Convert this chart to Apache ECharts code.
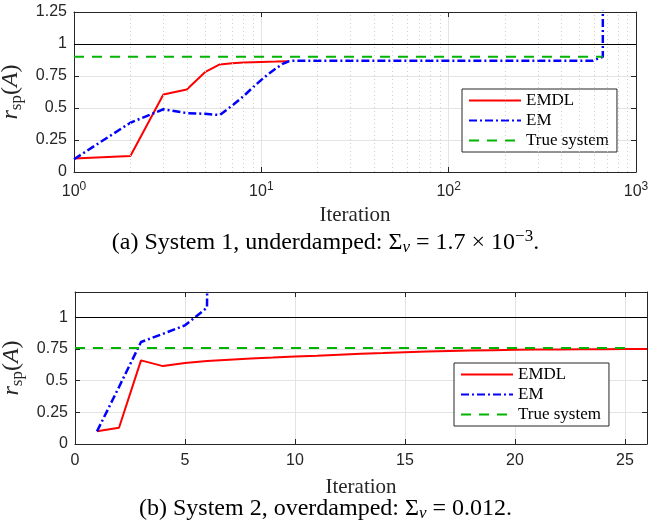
<!DOCTYPE html>
<html>
<head>
<meta charset="utf-8">
<script src="https://cdn.jsdelivr.net/npm/echarts@6/dist/echarts.min.js"></script>
<style>
  html, body { margin: 0; padding: 0; background: #fff; }
  #chart { width: 651px; height: 526px; }
</style>
</head>
<body>
<div id="chart"></div>
<script>
// system 1 (log x axis)
var emdl1 = [[1, 0.105], [2, 0.125], [3, 0.605], [4, 0.645], [5, 0.78], [6, 0.84], [7, 0.85],
  [8, 0.855], [9, 0.858], [10, 0.86], [12, 0.863], [14, 0.866]];
var em1 = [[1, 0.1], [2, 0.385], [3, 0.49], [4, 0.46], [5, 0.455], [6, 0.445], [7, 0.52],
  [8, 0.59], [9, 0.66], [10, 0.72], [11, 0.77], [12, 0.81], [13, 0.845], [14, 0.865],
  [15, 0.87], [20, 0.87], [50, 0.87], [100, 0.87], [200, 0.87], [400, 0.87], [590, 0.87],
  [665, 0.9], [675, 50]];
var true1 = [[1, 0.9], [665, 0.9]];
var minorX1 = [2, 3, 4, 5, 6, 7, 8, 9, 20, 30, 40, 50, 60, 70, 80, 90, 200, 300, 400, 500, 600, 700, 800, 900];

// system 2 (linear x axis)
var emdl2 = [[1, 0.1], [2, 0.128], [3, 0.66], [4, 0.615], [5, 0.64], [6, 0.655], [7, 0.665],
  [8, 0.675], [9, 0.682], [10, 0.69], [11, 0.697], [12, 0.705], [13, 0.712], [14, 0.718],
  [15, 0.725], [16, 0.73], [17, 0.734], [18, 0.738], [19, 0.741], [20, 0.744], [21, 0.746],
  [22, 0.747], [23, 0.748], [24, 0.749], [25, 0.75], [26, 0.75]];
var em2 = [[1, 0.1], [2, 0.45], [3, 0.805], [4, 0.87], [5, 0.937], [6, 1.076], [7, 20]];
var true2 = [[0, 0.758], [25, 0.758]];

var refLevel = 1;
var names = ['EMDL', 'EM', 'True system'];

var axisCol = '#262626';
var gridCol = '#e3e3e3';
var serif = '"Liberation Serif", "DejaVu Serif", serif';
var sans = '"Liberation Sans", Arial, sans-serif';

var ylabelRich = {
  i: { fontFamily: serif, fontStyle: 'italic', fontSize: 24, color: axisCol },
  s: { fontFamily: serif, fontSize: 17, color: axisCol, padding: [12, 0, 0, 0] },
  n: { fontFamily: serif, fontSize: 24, color: axisCol }
};
var yName = '{i|r}{s|sp}{n|(}{i|A}{n|)}';

function boxAxis(grid, pos, type, min, max, interval) {
  var a = {
    type: type, gridIndex: grid, position: pos, min: min, max: max,
    axisLine: { show: true, onZero: false, lineStyle: { color: axisCol } },
    axisTick: { show: true, inside: true, length: 5, lineStyle: { color: axisCol } },
    axisLabel: { show: false }, splitLine: { show: false }
  };
  if (interval) a.interval = interval;
  return a;
}

function legendAt(left, top) {
  return {
    data: names, orient: 'vertical', left: left, top: top,
    itemWidth: 52, itemHeight: 12, itemGap: 3,
    padding: [3, 8, 3, 6],
    itemStyle: { opacity: 0 },
    borderColor: axisCol, borderWidth: 1, backgroundColor: '#fff',
    textStyle: { fontFamily: serif, fontSize: 17, color: '#000' }
  };
}

var chart = echarts.init(document.getElementById('chart'));
chart.setOption({
  animation: false,
  backgroundColor: '#fff',
  grid: [
    { left: 74, top: 12, width: 562, height: 160, containLabel: false, outerBoundsMode: 'none' },
    { left: 75, top: 292, width: 572, height: 152, containLabel: false, outerBoundsMode: 'none' }
  ],
  xAxis: [
    {
      type: 'log', logBase: 10, gridIndex: 0, min: 1, max: 1000,
      name: 'Iteration', nameLocation: 'middle', nameGap: 33,
      nameTextStyle: { fontFamily: serif, fontSize: 21, color: axisCol },
      axisLine: { onZero: false, lineStyle: { color: axisCol } },
      axisTick: { inside: true, length: 5, lineStyle: { color: axisCol } },
      axisLabel: {
        margin: 9,
        formatter: function (v) {
          return '{b|10}{e|' + Math.round(Math.log10(v)) + '}';
        },
        rich: {
          b: { fontFamily: sans, fontSize: 16, color: axisCol },
          e: { fontFamily: sans, fontSize: 12, color: axisCol, padding: [0, 0, 10, 0] }
        }
      },
      splitLine: { show: true, lineStyle: { color: gridCol } }
    },
    boxAxis(0, 'top', 'log', 1, 1000),
    {
      type: 'value', gridIndex: 1, min: 0, max: 26, interval: 5,
      name: 'Iteration', nameLocation: 'middle', nameGap: 33,
      nameTextStyle: { fontFamily: serif, fontSize: 21, color: axisCol },
      axisLine: { onZero: false, lineStyle: { color: axisCol } },
      axisTick: { inside: true, length: 5, lineStyle: { color: axisCol } },
      axisLabel: {
        margin: 9, fontFamily: sans, fontSize: 16, color: axisCol,
        formatter: function (v) { return v % 5 === 0 ? String(v) : ''; }
      },
      splitLine: { show: true, lineStyle: { color: gridCol } }
    },
    boxAxis(1, 'top', 'value', 0, 26, 5)
  ],
  yAxis: [
    {
      type: 'value', gridIndex: 0, min: 0, max: 1.25, interval: 0.25,
      name: yName, nameLocation: 'middle', nameGap: 44, nameRotate: 90,
      nameTextStyle: { rich: ylabelRich },
      axisLine: { show: true, lineStyle: { color: axisCol } },
      axisTick: { show: true, inside: true, length: 5, lineStyle: { color: axisCol } },
      axisLabel: { margin: 7, fontFamily: sans, fontSize: 16, color: axisCol },
      splitLine: { show: true, lineStyle: { color: gridCol } }
    },
    boxAxis(0, 'right', 'value', 0, 1.25, 0.25),
    {
      type: 'value', gridIndex: 1, min: 0, max: 1.2, interval: 0.25,
      name: yName, nameLocation: 'middle', nameGap: 44, nameRotate: 90,
      nameTextStyle: { rich: ylabelRich },
      axisLine: { show: true, lineStyle: { color: axisCol } },
      axisTick: { show: true, inside: true, length: 5, lineStyle: { color: axisCol } },
      axisLabel: {
        margin: 7, fontFamily: sans, fontSize: 16, color: axisCol,
        formatter: function (v) { return Math.abs(v / 0.25 - Math.round(v / 0.25)) < 1e-6 ? String(v) : ''; }
      },
      splitLine: { show: true, lineStyle: { color: gridCol } }
    },
    boxAxis(1, 'right', 'value', 0, 1.2, 0.25)
  ],
  legend: [legendAt(462, 89), legendAt(454, 363)],
  series: [
    // minor grid for the log axis plus the reference line at 1
    {
      type: 'line', xAxisIndex: 0, yAxisIndex: 0, data: [], silent: true,
      markLine: {
        silent: true, symbol: 'none', label: { show: false },
        lineStyle: { color: '#cfcfcf', type: [1, 3], width: 1 },
        data: minorX1.map(function (v) { return { xAxis: v }; }).concat([
          { yAxis: refLevel, lineStyle: { color: '#000', type: 'solid', width: 1 } }
        ])
      }
    },
    {
      type: 'line', xAxisIndex: 2, yAxisIndex: 2, data: [], silent: true,
      markLine: {
        silent: true, symbol: 'none', label: { show: false },
        data: [{ yAxis: refLevel, lineStyle: { color: '#000', type: 'solid', width: 1 } }]
      }
    },
    {
      name: 'EMDL', type: 'line', xAxisIndex: 0, yAxisIndex: 0, data: emdl1,
      showSymbol: false, symbol: 'none', clip: true,
      lineStyle: { color: '#ff0000', width: 2 }, itemStyle: { color: '#ff0000' }
    },
    {
      name: 'EM', type: 'line', xAxisIndex: 0, yAxisIndex: 0, data: em1,
      showSymbol: false, symbol: 'none', clip: true,
      lineStyle: { color: '#0000ff', width: 2.5, type: [8, 3, 2, 3] }, itemStyle: { color: '#0000ff' }
    },
    {
      name: 'True system', type: 'line', xAxisIndex: 0, yAxisIndex: 0, data: true1,
      showSymbol: false, symbol: 'none', clip: true,
      lineStyle: { color: '#00b400', width: 2, type: [10, 8] }, itemStyle: { color: '#00b400' }
    },
    {
      name: 'EMDL', type: 'line', xAxisIndex: 2, yAxisIndex: 2, data: emdl2,
      showSymbol: false, symbol: 'none', clip: true,
      lineStyle: { color: '#ff0000', width: 2 }, itemStyle: { color: '#ff0000' }
    },
    {
      name: 'EM', type: 'line', xAxisIndex: 2, yAxisIndex: 2, data: em2,
      showSymbol: false, symbol: 'none', clip: true,
      lineStyle: { color: '#0000ff', width: 2.5, type: [8, 3, 2, 3] }, itemStyle: { color: '#0000ff' }
    },
    {
      name: 'True system', type: 'line', xAxisIndex: 2, yAxisIndex: 2, data: true2,
      showSymbol: false, symbol: 'none', clip: true,
      lineStyle: { color: '#00b400', width: 2, type: [10, 8] }, itemStyle: { color: '#00b400' }
    }
  ],
  graphic: [
    {
      type: 'text', left: 'center', top: 228,
      style: {
        text: '{t|(a) System 1, underdamped: }{t|\u03A3}{sub|v}{t| = 1.7 \u00D7 10}{sup|\u22123}{t|.}',
        rich: {
          t: { fontFamily: serif, fontSize: 24, fill: '#000' },
          sub: { fontFamily: serif, fontStyle: 'italic', fontSize: 17, fill: '#000', padding: [10, 0, 0, 0] },
          sup: { fontFamily: serif, fontSize: 17, fill: '#000', padding: [0, 0, 12, 0] }
        }
      }
    },
    {
      type: 'text', left: 'center', top: 497,
      style: {
        text: '{t|(b) System 2, overdamped: }{t|\u03A3}{sub|v}{t| = 0.012.}',
        rich: {
          t: { fontFamily: serif, fontSize: 24, fill: '#000' },
          sub: { fontFamily: serif, fontStyle: 'italic', fontSize: 17, fill: '#000', padding: [10, 0, 0, 0] }
        }
      }
    }
  ]
});
</script>
</body>
</html>
